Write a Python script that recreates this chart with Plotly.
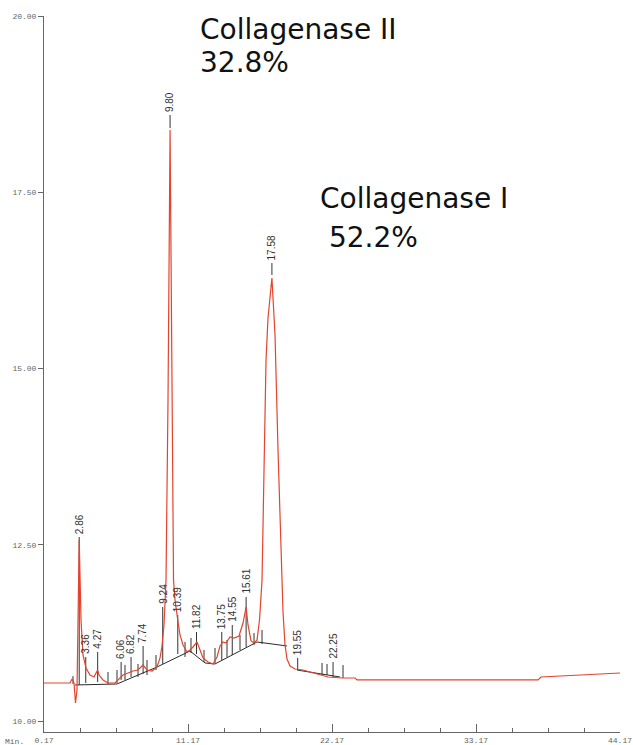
import plotly.graph_objects as go

# ---- chromatogram trace (time in min, detector signal) ----
trace_t = [0.17, 2.156, 2.309, 2.462, 2.576, 2.691, 2.86, 2.997, 3.149, 3.379, 3.684, 3.990,
           4.27, 4.372, 4.677, 5.059, 5.594, 5.900, 6.205, 6.587, 6.969, 7.351, 7.74, 8.039,
           8.421, 8.803, 9.032, 9.185, 9.337, 9.490, 9.643, 9.80, 9.948, 10.063, 10.178,
           10.330, 10.407, 10.560, 10.789, 11.094, 11.324, 11.553, 11.858, 12.088, 12.317,
           12.699, 13.081, 13.386, 13.615, 13.845, 14.074, 14.379, 14.685, 15.067, 15.372,
           15.61, 15.755, 15.984, 16.213, 16.442, 16.633, 16.824, 16.977, 17.130, 17.282,
           17.58, 17.664, 17.817, 18.046, 18.276, 18.428, 18.581, 18.734, 18.963, 19.345,
           19.956, 20.720, 21.255, 21.866, 22.936, 23.929, 24.081, 28.894, 33.478, 37.909,
           38.138, 44.17]
trace_v = [10.539, 10.539, 10.596, 10.539, 10.255, 10.440, 12.567, 11.433, 10.936, 10.752,
           10.652, 10.624, 10.723, 10.652, 10.582, 10.539, 10.539, 10.596, 10.652, 10.681,
           10.709, 10.723, 10.794, 10.723, 10.709, 10.766, 10.894, 11.064, 11.362, 12.000,
           14.553, 18.383, 14.553, 12.000, 11.716, 11.546, 11.404, 11.220, 11.078, 10.979,
           11.007, 11.050, 11.121, 11.007, 10.894, 10.837, 10.809, 10.908, 11.064, 11.121,
           11.106, 11.191, 11.177, 11.206, 11.390, 11.617, 11.362, 11.135, 11.106, 11.149,
           11.433, 12.000, 13.844, 15.121, 15.716, 16.284, 16.000, 15.475, 13.844, 12.284,
           11.546, 11.078, 10.879, 10.780, 10.738, 10.723, 10.681, 10.652, 10.624, 10.610,
           10.610, 10.582, 10.582, 10.582, 10.582, 10.624, 10.681]

# ---- integration baselines ----
base1_t = [2.538, 5.747, 8.803, 11.324, 12.470, 13.233, 16.442, 18.734]
base1_v = [10.511, 10.525, 10.766, 10.993, 10.823, 10.809, 11.121, 11.064]
base2_t = [19.498, 22.783]
base2_v = [10.723, 10.624]

# ---- labelled peak markers ----
peak_labels = ["2.86", "3.36", "4.27", "6.06", "6.82", "7.74", "9.24", "9.80", "10.39",
               "11.82", "13.75", "14.55", "15.61", "17.58", "19.55", "22.25"]
peak_t = [2.86, 3.36, 4.27, 6.06, 6.82, 7.74, 9.24, 9.80, 10.39, 11.82, 13.75, 14.55,
          15.61, 17.58, 19.55, 22.25]
peak_lo = [10.511, 10.539, 10.553, 10.582, 10.624, 10.667, 10.809, 18.411, 10.950, 10.950,
           10.865, 10.936, 11.050, 16.326, 10.723, 10.624]
peak_hi = [12.610, 10.908, 10.979, 10.837, 10.908, 11.064, 11.617, 18.596, 11.504, 11.262,
           11.262, 11.362, 11.759, 16.496, 10.894, 10.837]

# ---- unlabelled event markers ----
mark_t = [2.385, 5.059, 5.747, 6.358, 7.351, 8.039, 8.726, 10.942, 11.400, 12.393, 13.233,
          14.150, 15.143, 16.213, 16.824, 21.408, 21.790, 23.012]
mark_lo = [10.525, 10.525, 10.539, 10.582, 10.624, 10.652, 10.723, 10.908, 10.965, 10.837,
           10.823, 10.908, 11.007, 11.078, 11.092, 10.652, 10.652, 10.610]
mark_hi = [10.638, 10.695, 10.723, 10.794, 10.809, 10.865, 10.936, 11.121, 11.177, 11.007,
           11.035, 11.149, 11.220, 11.248, 11.291, 10.823, 10.809, 10.794]

# ---- axis ticks ----
x_major = [0.17, 11.17, 22.17, 33.17, 44.17]
x_major_text = ["0.17", "11.17", "22.17", "33.17", "44.17"]
y_ticks = [10.0, 12.5, 15.0, 17.5, 20.0]
y_tick_text = ["10.00", "12.50", "15.00", "17.50", "20.00"]

# ---- callouts (one entry per text line) ----
callout_lines = ["Collagenase II", "32.8%", "Collagenase I", "\u00a052.2%"]
callout_x = [0.2674, 0.2674, 0.4757, 0.4757]
callout_y = [1.0063, 0.9602, 0.7703, 0.7158]

fig = go.Figure()

# event marker segments
mx, my = [], []
for t, lo, hi in zip(peak_t + mark_t, peak_lo + mark_lo, peak_hi + mark_hi):
    mx += [t, t, None]
    my += [lo, hi, None]
fig.add_trace(go.Scatter(x=mx, y=my, mode="lines",
                         line=dict(color="#333333", width=1), hoverinfo="skip"))

fig.add_trace(go.Scatter(x=base1_t, y=base1_v, mode="lines",
                         line=dict(color="#2a2a2a", width=1), hoverinfo="skip"))
fig.add_trace(go.Scatter(x=base2_t, y=base2_v, mode="lines",
                         line=dict(color="#2a2a2a", width=1), hoverinfo="skip"))

fig.add_trace(go.Scatter(x=trace_t, y=trace_v, mode="lines",
                         line=dict(color="#e5432d", width=1.2)))

for lab, t, hi in zip(peak_labels, peak_t, peak_hi):
    fig.add_annotation(x=t, y=hi, text=lab, textangle=-90, showarrow=False,
                       xanchor="center", yanchor="bottom", yshift=1,
                       font=dict(family="Liberation Sans", size=10, color="#333333"))

for txt, xp, yp in zip(callout_lines, callout_x, callout_y):
    fig.add_annotation(x=xp, y=yp, xref="paper", yref="paper", text=txt, showarrow=False,
                       xanchor="left", yanchor="top", align="left",
                       font=dict(family="DejaVu Sans", size=28, color="#111111"))

fig.add_annotation(x=-0.072, y=-0.004, xref="paper", yref="paper", text="Min.",
                   showarrow=False, xanchor="left", yanchor="top",
                   font=dict(family="Liberation Mono", size=8, color="#666666"))

fig.update_layout(
    width=633, height=745,
    margin=dict(l=44, r=13, t=16, b=13),
    paper_bgcolor="white", plot_bgcolor="white",
    showlegend=False,
)
fig.update_xaxes(range=[0.17, 44.17], showgrid=False, zeroline=False,
                 showline=True, linecolor="#666666", linewidth=1,
                 tickmode="array", tickvals=x_major, ticktext=x_major_text,
                 ticks="inside", ticklen=8, tickcolor="#666666",
                 minor=dict(dtick=2.75, tick0=0.17, ticks="inside", ticklen=4,
                            tickcolor="#666666", showgrid=False),
                 tickfont=dict(family="Liberation Mono", size=8, color="#666666"),
                 automargin=False)
fig.update_yaxes(range=[9.844, 20.0], showgrid=False, zeroline=False,
                 showline=True, linecolor="#666666", linewidth=1,
                 tickmode="array", tickvals=y_ticks, ticktext=y_tick_text,
                 ticks="outside", ticklen=5, tickcolor="#666666",
                 tickfont=dict(family="Liberation Mono", size=8, color="#666666"),
                 automargin=False)

fig.write_html("out.html")
